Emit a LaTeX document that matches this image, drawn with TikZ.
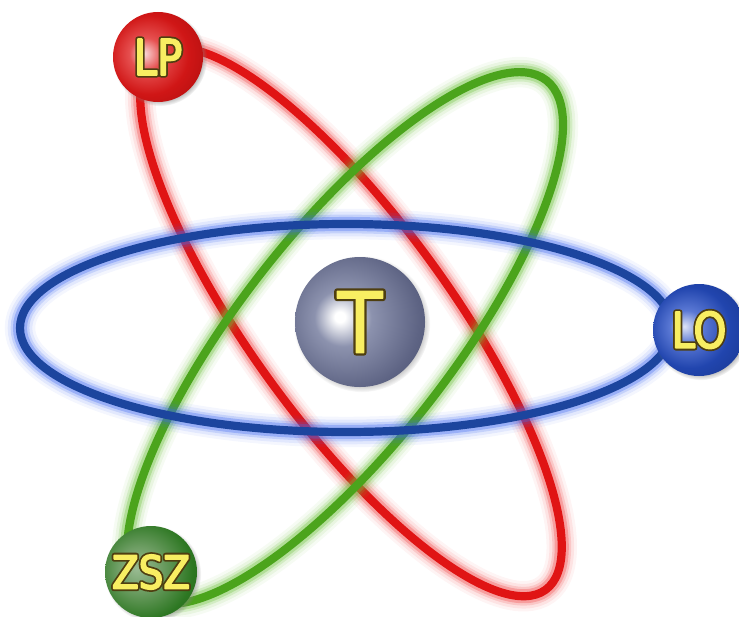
\documentclass[tikz,border=0pt]{standalone}
\usepackage{fontspec}
\usetikzlibrary{shadows, fadings}
\newfontfamily\ballfont[FakeStretch=0.88]{DejaVu Sans}
\newfontfamily\smallballfont[FakeStretch=0.85]{DejaVu Sans}
% orbit colours
\definecolor{redline}{HTML}{E01414}
\definecolor{redglow}{HTML}{F04848}
\definecolor{greenline}{HTML}{4BA41C}
\definecolor{greenglow}{HTML}{6CC03A}
\definecolor{blueline}{HTML}{1C459E}
\definecolor{blueglow}{HTML}{3F68F0}
% letters
\definecolor{lettercol}{HTML}{F8EE62}
% balls
\definecolor{tmid}{HTML}{8C92AE}
\definecolor{tbase}{HTML}{5E6484}
\definecolor{tdark}{HTML}{363D5A}
\definecolor{rmid}{HTML}{E65050}
\definecolor{rbase}{HTML}{D01616}
\definecolor{rdark}{HTML}{960A0A}
\definecolor{bmid}{HTML}{5A78D4}
\definecolor{bbase}{HTML}{2145AE}
\definecolor{bdark}{HTML}{122C78}
\definecolor{gmid}{HTML}{6E9E64}
\definecolor{gbase}{HTML}{2D7722}
\definecolor{gdark}{HTML}{1B5013}
\pgfdeclareradialshading{tshade}{\pgfpoint{-8bp}{2bp}}{color(0bp)=(white); color(2bp)=(white); color(11bp)=(tmid); color(27bp)=(tbase); color(47bp)=(tdark); color(60bp)=(tdark)}
\pgfdeclareradialshading{lpshade}{\pgfpoint{-8bp}{2bp}}{color(0bp)=(white!80!rmid); color(9bp)=(rmid); color(22bp)=(rbase); color(47bp)=(rdark); color(60bp)=(rdark)}
\pgfdeclareradialshading{loshade}{\pgfpoint{-8bp}{2bp}}{color(0bp)=(white!80!bmid); color(9bp)=(bmid); color(22bp)=(bbase); color(47bp)=(bdark); color(60bp)=(bdark)}
\pgfdeclareradialshading{zszshade}{\pgfpoint{-8bp}{2bp}}{color(0bp)=(gmid!70!white); color(12bp)=(gmid); color(27bp)=(gbase); color(47bp)=(gdark); color(60bp)=(gdark)}
% yellow letters over a stroked dark rim (#1 rim width, #2 yellow stroke)
\newcommand\rimtext[3]{%
  \rlap{\special{pdf:literal direct 1 Tr #1 w 1 j 0.306 0.243 0.063 RG}#3%
    \special{pdf:literal direct 0 Tr}}%
  \special{pdf:literal direct 2 Tr #2 w 1 j 0.973 0.933 0.384 RG}#3%
  \special{pdf:literal direct 0 Tr 0.3985 w 0 j}}

\begin{document}
\begin{tikzpicture}[x=0.03cm, y=-0.03cm,
  orbit/.style 2 args={draw=#1, line width=7pt,
    preaction={draw=#2, line width=26pt, draw opacity=0.06},
    preaction={draw=#2, line width=21pt, draw opacity=0.10},
    preaction={draw=#2, line width=16pt, draw opacity=0.18},
    preaction={draw=#2, line width=12pt, draw opacity=0.32}},
  ball/.style={circle, inner sep=0pt, text=lettercol,
    circular drop shadow={shadow xshift=1.5pt, shadow yshift=-1.5pt,
      shadow scale=1.05, opacity=0.65}},
  small/.style={font=\smallballfont\fontsize{42}{42}\selectfont},
]
\useasboundingbox (0,0) rectangle (739,616);
% ---- the three orbits ----
\draw[orbit={redline}{redglow}, rotate around={-54:(351,322)}]
  (351,322) ellipse [x radius=331, y radius=100];
\draw[orbit={greenline}{greenglow}, rotate around={52:(345,338)}]
  (345,338) ellipse [x radius=327, y radius=106];
\draw[orbit={blueline}{blueglow}]
  (346,328) ellipse [x radius=326, y radius=104];
% ---- nucleus and electrons ----
\node[ball, shading=tshade, minimum size=3.9cm,
  font=\ballfont\fontsize{72}{72}\selectfont] (tball) at (360,322) {\rimtext{5}{1}{T}};
\node[ball, small, shading=lpshade, minimum size=2.7cm] (lp) at (158,57) {\rimtext{4.4}{1.4}{LP}};
\node[ball, small, shading=loshade, minimum size=2.76cm] (lo) at (699,330) {\rimtext{4.4}{1.4}{LO}};
\node[ball, shading=zszshade, minimum size=2.76cm,
  font=\smallballfont\fontsize{39}{39}\selectfont] (zsz) at (151,572) {\rimtext{4.4}{1.4}{ZSZ}};
\end{tikzpicture}
\end{document}
